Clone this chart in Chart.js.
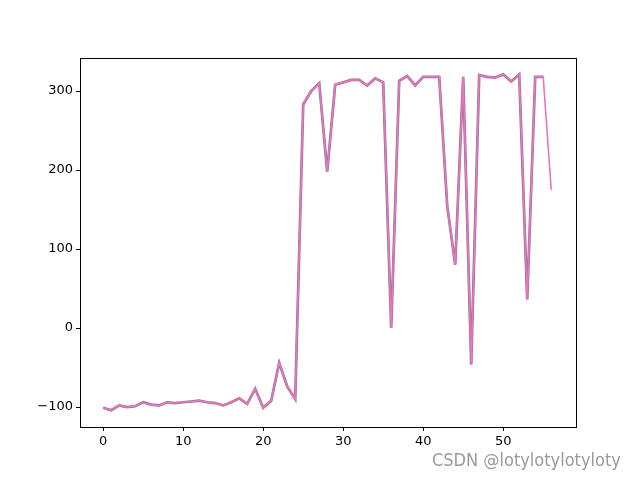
<!DOCTYPE html>
<html>
<head>
<meta charset="utf-8">
<script src="https://cdn.jsdelivr.net/npm/chart.js@4"></script>
<style>
  html, body { margin: 0; padding: 0; background: #fff; }
  #wrap { position: relative; width: 640px; height: 480px; }
  #c { position: absolute; left: 0; top: 0; }
  #wm { position: absolute; left: 432px; top: 449px; font-family: "Liberation Sans Narrow", "DejaVu Sans Condensed", "Liberation Sans", sans-serif; font-size: 18px; color: #9a9a9a; white-space: nowrap; }
</style>
</head>
<body>
<div id="wrap">
  <canvas id="c" width="640" height="480"></canvas>
  <div id="wm">CSDN @lotylotylotyloty</div>
</div>
<script>
const episodes = [0,1,2,3,4,5,6,7,8,9,10,11,12,13,14,15,16,17,18,19,20,21,22,23,24,25,26,27,28,29,30,31,32,33,34,35,36,37,38,39,40,41,42,43,44,45,46,47,48,49,50,51,52,53,54,55,56];
const rewards = [-101,-104,-98,-100,-99,-94,-97,-98,-94,-95,-94,-93,-92,-94,-95,-98,-94,-89,-96,-77,-101,-92,-44,-74,-90,283,300,310,198,308,311,314,314,307,316,311,0,313,319,307,318,318,318,155,80,318,-46,320,318,317,321,312,321,36,318,318,175];
const xTicks = [0,10,20,30,40,50];
const yTicks = [-100,0,100,200,300];

const pts = episodes.map((e,i)=>({x:e, y:rewards[i]}));
const ptsUnder = pts.slice(0, pts.length-1);

const framePlugin = {
  id: 'frame',
  afterDraw(chart) {
    const {ctx, chartArea:a} = chart;
    ctx.save();
    ctx.strokeStyle = '#000';
    ctx.lineWidth = 1;
    ctx.strokeRect(Math.round(a.left)+0.5, Math.round(a.top)+0.5, Math.round(a.right-a.left), Math.round(a.bottom-a.top));
    ctx.restore();
  }
};

const fmt = v => String(v).replace('-', '\u2212');

new Chart(document.getElementById('c'), {
  type: 'line',
  data: {
    datasets: [
      { data: pts, borderColor: '#e377c2', borderWidth: 1.6, pointRadius: 0, tension: 0, order: 0 },
      { data: ptsUnder, borderColor: '#9a6c8c', borderWidth: 2.7, pointRadius: 0, tension: 0, order: 1 }
    ]
  },
  plugins: [framePlugin],
  options: {
    responsive: false,
    animation: false,
    layout: { padding: { left: 0, right: 64, top: 58, bottom: 0 } },
    plugins: { legend: { display: false }, tooltip: { enabled: false } },
    scales: {
      x: {
        type: 'linear', min: -2.9, max: 59.1,
        afterBuildTicks: s => { s.ticks = xTicks.map(v=>({value:v})); },
        afterFit: s => { s.height = 53; },
        grid: { display: true, drawOnChartArea: false, drawTicks: true, tickLength: 4, color: '#000' },
        border: { display: true, color: '#000', width: 1 },
        ticks: { color: '#000', font: { family: 'DejaVu Sans', size: 13 }, padding: 3, maxRotation: 0, callback: fmt }
      },
      y: {
        type: 'linear', min: -125.3, max: 341.8,
        afterBuildTicks: s => { s.ticks = yTicks.map(v=>({value:v})); },
        afterFit: s => { s.width = 80; },
        grid: { display: true, drawOnChartArea: false, drawTicks: true, tickLength: 4, color: '#000' },
        border: { display: true, color: '#000', width: 1 },
        ticks: { color: '#000', font: { family: 'DejaVu Sans', size: 13 }, padding: 3, callback: fmt }
      }
    }
  }
});
</script>
</body>
</html>
